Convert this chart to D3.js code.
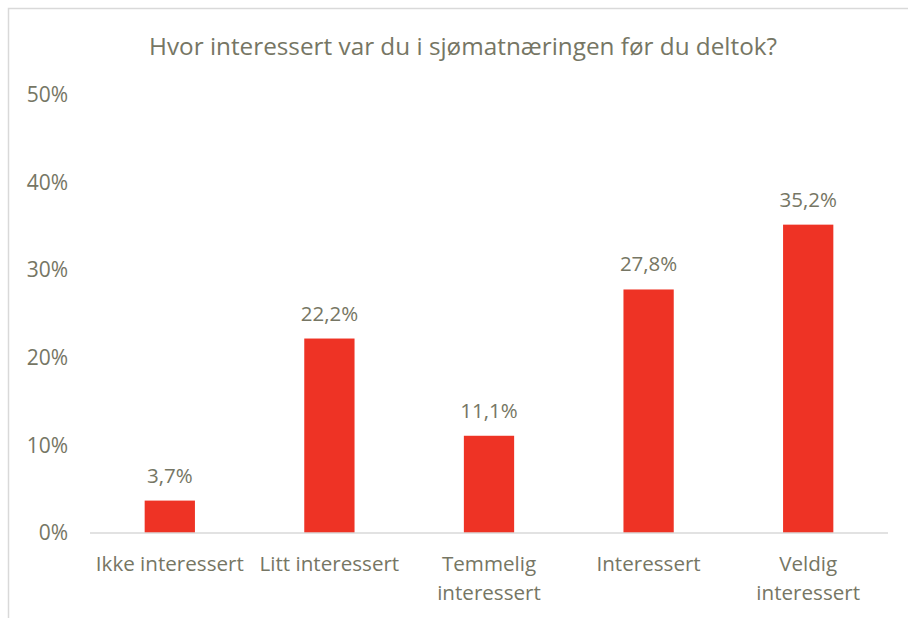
<!DOCTYPE html>
<html>
<head>
<meta charset="utf-8">
<script src="https://cdn.jsdelivr.net/npm/d3@7"></script>
<style>
  body { margin: 0; background: #fff; }
  svg text { font-family: "Open Sans", Lato, sans-serif; fill: #767664; }
</style>
</head>
<body>
<svg class="chart"></svg>
<script>
var width = 908,
    height = 618;

var title = "Hvor interessert var du i sjømatnæringen før du deltok?";
var categories = [["Ikke interessert"], ["Litt interessert"], ["Temmelig", "interessert"], ["Interessert"], ["Veldig", "interessert"]];
var values = [3.7, 22.2, 11.1, 27.8, 35.2];
var yTicks = [0, 10, 20, 30, 40, 50];

var svg = d3.select(".chart")
    .attr("width", width)
    .attr("height", height);

// chart frame (runs off the right and bottom edges)
svg.append("rect")
    .attr("x", 8.5).attr("y", 8.5)
    .attr("width", 1000).attr("height", 1000)
    .attr("fill", "none")
    .attr("stroke", "#d9d9d9")
    .attr("stroke-width", 1.5);

var x = d3.scaleBand()
    .domain(d3.range(values.length))
    .range([90, 888])
    .padding(0);

var y = d3.scaleLinear()
    .domain([0, 50])
    .range([533, 95]);

svg.append("text")
    .attr("x", 463)
    .attr("y", 55)
    .attr("text-anchor", "middle")
    .style("font-size", "24.3px")
    .text(title);

// y axis labels
var yAxis = svg.append("g")
    .attr("transform", "translate(68,0)")
    .call(d3.axisLeft(y).tickValues(yTicks).tickFormat(d => d + "%").tickSize(0).tickPadding(0));
yAxis.select(".domain").remove();
yAxis.selectAll("text")
    .attr("fill", "#767664")
    .style("font-size", "21px")
    .style("font-family", "'Open Sans', Lato, sans-serif");

var barW = x.bandwidth() * 0.315;

svg.selectAll(".bar")
    .data(values)
  .enter().append("rect")
    .attr("class", "bar")
    .attr("x", (d, i) => x(i) + x.bandwidth() / 2 - barW / 2)
    .attr("y", d => y(d))
    .attr("width", barW)
    .attr("height", d => y(0) - y(d))
    .attr("fill", "#ee3325");

svg.selectAll(".val")
    .data(values)
  .enter().append("text")
    .attr("class", "val")
    .attr("x", (d, i) => x(i) + x.bandwidth() / 2)
    .attr("y", d => y(d) - 18)
    .attr("text-anchor", "middle")
    .style("font-size", "20.5px")
    .text(d => d.toFixed(1).replace(".", ",") + "%");

// baseline
svg.append("line")
    .attr("x1", 90).attr("x2", 888)
    .attr("y1", y(0)).attr("y2", y(0))
    .attr("stroke", "#d9d9d9")
    .attr("stroke-width", 1.5);

// category labels
var cat = svg.selectAll(".cat")
    .data(categories)
  .enter().append("text")
    .attr("class", "cat")
    .attr("text-anchor", "middle")
    .attr("x", (d, i) => x(i) + x.bandwidth() / 2)
    .attr("y", 571)
    .style("font-size", "20.6px");

cat.selectAll("tspan")
    .data(d => d)
  .enter().append("tspan")
    .attr("x", function() { return d3.select(this.parentNode).attr("x"); })
    .attr("dy", (d, i) => i ? 29 : 0)
    .text(d => d);
</script>
</body>
</html>
